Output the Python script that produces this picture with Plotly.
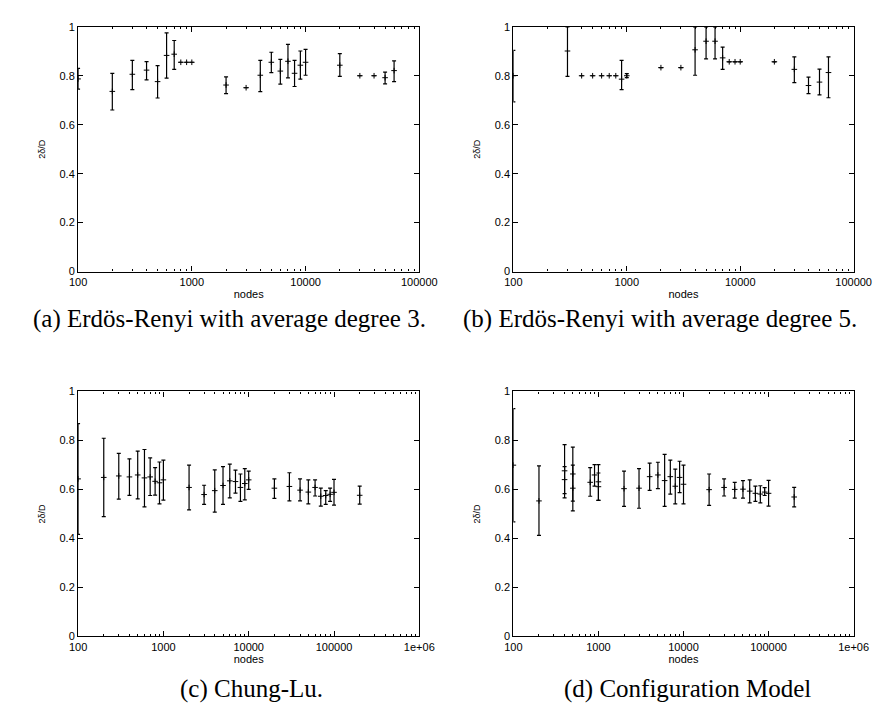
import plotly.graph_objects as go

# ---------------- data ----------------
# (a) Erdos-Renyi, average degree 3
a_x = [100, 200, 300, 400, 500, 600, 700, 800, 900, 1000, 2000, 3000, 4000, 5000,
       6000, 7000, 8000, 9000, 10000, 20000, 30000, 40000, 50000, 60000]
a_y = [0.787, 0.736, 0.806, 0.823, 0.776, 0.883, 0.888, 0.855, 0.855, 0.855, 0.762, 0.751,
       0.802, 0.855, 0.819, 0.859, 0.810, 0.843, 0.855, 0.843, 0.800, 0.800, 0.792, 0.821]
a_hi = [0.830, 0.810, 0.863, 0.858, 0.841, 0.975, 0.944, 0.855, 0.855, 0.855, 0.795, 0.751,
        0.863, 0.896, 0.867, 0.928, 0.863, 0.901, 0.908, 0.890, 0.800, 0.800, 0.815, 0.861]
a_lo = [0.745, 0.660, 0.743, 0.783, 0.709, 0.790, 0.826, 0.855, 0.855, 0.855, 0.727, 0.751,
        0.735, 0.813, 0.766, 0.791, 0.756, 0.786, 0.802, 0.797, 0.800, 0.800, 0.767, 0.776]

# (b) Erdos-Renyi, average degree 5
b_x = [100, 300, 400, 500, 600, 700, 800, 900, 1000, 2000, 3000, 4000, 5000, 6000,
       7000, 8000, 9000, 10000, 20000, 30000, 40000, 50000, 60000]
b_y = [0.800, 0.901, 0.800, 0.800, 0.800, 0.800, 0.800, 0.786, 0.800, 0.833, 0.833, 0.906,
       0.941, 0.941, 0.873, 0.857, 0.857, 0.857, 0.857, 0.826, 0.760, 0.774, 0.813]
b_hi = [0.904, 1.000, 0.800, 0.800, 0.800, 0.800, 0.800, 0.863, 0.809, 0.833, 0.833, 1.000,
        1.000, 1.000, 0.917, 0.857, 0.857, 0.857, 0.857, 0.877, 0.794, 0.827, 0.877]
b_lo = [0.693, 0.797, 0.800, 0.800, 0.800, 0.800, 0.800, 0.743, 0.792, 0.833, 0.833, 0.802,
        0.869, 0.869, 0.826, 0.857, 0.857, 0.857, 0.857, 0.772, 0.727, 0.722, 0.710]

# (c) Chung-Lu
c_x = [100, 200, 300, 400, 500, 600, 700, 800, 900, 1000, 2000, 3000, 4000, 5000, 6000,
       7000, 8000, 9000, 10000, 20000, 30000, 40000, 50000, 60000, 70000, 80000, 90000,
       100000, 200000]
c_y = [0.643, 0.649, 0.655, 0.651, 0.659, 0.647, 0.651, 0.633, 0.627, 0.639, 0.608, 0.579,
       0.595, 0.616, 0.635, 0.632, 0.608, 0.624, 0.639, 0.605, 0.612, 0.597, 0.589, 0.608,
       0.572, 0.575, 0.580, 0.588, 0.576]
c_hi = [0.869, 0.809, 0.747, 0.725, 0.756, 0.763, 0.729, 0.689, 0.712, 0.720, 0.699, 0.617,
        0.680, 0.693, 0.703, 0.679, 0.663, 0.685, 0.675, 0.643, 0.668, 0.643, 0.639, 0.639,
        0.605, 0.595, 0.605, 0.641, 0.613]
c_lo = [0.416, 0.489, 0.560, 0.576, 0.561, 0.529, 0.575, 0.577, 0.541, 0.556, 0.516, 0.539,
        0.507, 0.539, 0.565, 0.585, 0.551, 0.557, 0.600, 0.563, 0.553, 0.553, 0.541, 0.573,
        0.532, 0.539, 0.551, 0.536, 0.540]

# (d) Configuration Model
d_x = [100, 200, 400, 400, 500, 500, 800, 900, 1000, 1000, 2000, 3000, 4000, 5000, 6000,
       7000, 8000, 9000, 10000, 20000, 30000, 40000, 50000, 60000, 70000, 80000, 90000,
       100000, 200000]
d_y = [0.699, 0.553, 0.676, 0.640, 0.663, 0.605, 0.629, 0.659, 0.631, 0.611, 0.603, 0.605,
       0.652, 0.659, 0.636, 0.652, 0.613, 0.649, 0.621, 0.599, 0.608, 0.600, 0.601, 0.593,
       0.584, 0.581, 0.589, 0.584, 0.569]
d_hi = [0.930, 0.696, 0.783, 0.693, 0.773, 0.699, 0.689, 0.701, 0.701, 0.667, 0.675, 0.685,
        0.707, 0.711, 0.743, 0.720, 0.683, 0.715, 0.699, 0.663, 0.643, 0.629, 0.636, 0.639,
        0.613, 0.615, 0.607, 0.637, 0.608]
d_lo = [0.467, 0.412, 0.565, 0.583, 0.552, 0.512, 0.572, 0.613, 0.555, 0.555, 0.531, 0.523,
        0.596, 0.603, 0.531, 0.581, 0.541, 0.587, 0.541, 0.535, 0.573, 0.564, 0.564, 0.545,
        0.551, 0.545, 0.575, 0.532, 0.529]

# tick labels
x_ticks_short = [100, 1000, 10000, 100000]
x_text_short = ["100", "1000", "10000", "100000"]
x_ticks_long = [100, 1000, 10000, 100000, 1000000]
x_text_long = ["100", "1000", "10000", "100000", "1e+06"]
y_ticks = [0, 0.2, 0.4, 0.6, 0.8, 1]
y_text = ["0", "0.2", "0.4", "0.6", "0.8", "1"]

captions = ["(a) Erdös-Renyi with average degree 3.",
            "(b) Erdös-Renyi with average degree 5.",
            "(c) Chung-Lu.",
            "(d) Configuration Model"]

# ---------------- figure ----------------
W, H = 884, 708
SANS = "Liberation Sans, Arial, sans-serif"
SERIF = "Liberation Serif, Times New Roman, serif"

panels = [
    (a_x, a_y, a_hi, a_lo, (63, 415), (13, 262), 5, x_ticks_short, x_text_short),
    (b_x, b_y, b_hi, b_lo, (512, 863), (13, 262), 5, x_ticks_short, x_text_short),
    (c_x, c_y, c_hi, c_lo, (63, 415), (384, 633), 6, x_ticks_long, x_text_long),
    (d_x, d_y, d_hi, d_lo, (512, 863), (384, 633), 6, x_ticks_long, x_text_long),
]

fig = go.Figure()
layout = dict(width=W, height=H, margin=dict(l=0, r=0, t=0, b=0),
              paper_bgcolor="white", plot_bgcolor="white", showlegend=False,
              font=dict(family=SANS, color="black", size=11))

for i, (xs, ys, his, los, (px0, px1), (py0, py1), top_exp, tv, tt) in enumerate(panels):
    n = "" if i == 0 else str(i + 1)
    fig.add_trace(go.Scatter(
        x=xs, y=ys, mode="markers",
        xaxis="x" + n, yaxis="y" + n,
        marker=dict(symbol="cross-thin", size=4, color="black",
                    line=dict(color="black", width=1)),
        error_y=dict(type="data", symmetric=False,
                     array=[h - v for h, v in zip(his, ys)],
                     arrayminus=[v - l for v, l in zip(ys, los)],
                     color="black", thickness=1.2, width=2),
        hoverinfo="skip"))
    minor_vals = [m * 10 ** e for e in range(2, top_exp) for m in range(2, 10)]
    layout["xaxis" + n] = dict(
        type="log", range=[2, top_exp], domain=[px0 / W, px1 / W], anchor="y" + n,
        showline=True, linecolor="black", linewidth=1.2, mirror="ticks",
        ticks="inside", ticklen=5, tickcolor="black", tickwidth=1,
        tickmode="array", tickvals=tv, ticktext=tt,
        minor=dict(tickmode="array", tickvals=minor_vals, ticks="inside",
                   ticklen=2.5, tickcolor="black", tickwidth=1, showgrid=False),
        showgrid=False, zeroline=False,
        tickfont=dict(family=SANS, size=11, color="black"),
        title=dict(text="nodes", font=dict(family=SANS, size=11, color="black"),
                   standoff=3))
    layout["yaxis" + n] = dict(
        range=[0, 1], domain=[1 - py1 / H, 1 - py0 / H], anchor="x" + n,
        showline=True, linecolor="black", linewidth=1.2, mirror="ticks",
        ticks="inside", ticklen=5, tickcolor="black", tickwidth=1,
        tickmode="array", tickvals=y_ticks, ticktext=y_text,
        showgrid=False, zeroline=False,
        tickfont=dict(family=SANS, size=11, color="black"),
        title=dict(text="2δ/D", font=dict(family=SANS, size=9, color="black"),
                   standoff=12))

cap_pos = [(219, 310), (663, 310), (242, 687), (692, 687)]
layout["annotations"] = [
    dict(text=t, x=cx / W, y=1 - cy / H, xref="paper", yref="paper",
         xanchor="center", yanchor="middle", showarrow=False,
         font=dict(family=SERIF, size=25, color="black"))
    for t, (cx, cy) in zip(captions, cap_pos)]

fig.update_layout(**layout)
fig.write_html("out.html")
